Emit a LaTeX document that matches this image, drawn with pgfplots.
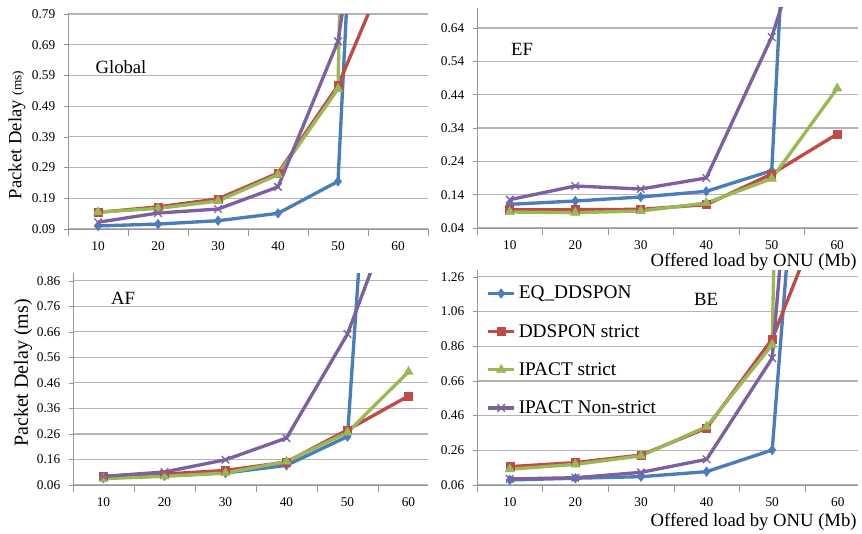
\documentclass[border=0pt]{standalone}
\usepackage{pgfplots}
\pgfplotsset{compat=1.18}
\usepackage{fontspec}
\setmainfont{Liberation Serif}
\definecolor{cblue}{RGB}{74,126,187}
\definecolor{cred}{RGB}{190,75,72}
\definecolor{cgreen}{RGB}{152,185,84}
\definecolor{cpurple}{RGB}{125,96,160}
\definecolor{cgrid}{RGB}{180,180,180}
\definecolor{caxis}{RGB}{150,150,150}
\pgfplotsset{
  panel/.style={
    scale only axis, anchor=south west,
    xmin=5, xtick={10,20,30,40,50,60},
    minor xtick={5,15,25,35,45,55,65},
    major x tick style={draw=none},
    minor x tick style={draw=caxis, thin},
    minor tick length=5pt,
    major tick length=3pt,
    y tick style={draw=caxis, thin},
    tick align=outside,
    tick pos=left,
    axis x line*=bottom, axis y line*=left,
    axis line style={draw=caxis, thin, -},
    ymajorgrids, grid style={draw=cgrid, line width=0.8pt},
    /pgf/number format/assume math mode=true,
    yticklabel style={/pgf/number format/fixed, /pgf/number format/fixed zerofill, /pgf/number format/precision=2},
    ticklabel style={font=\fontsize{10}{12}\selectfont},
    xticklabel style={yshift=-3pt},
    yticklabel style={xshift=-3pt},
    every axis plot/.append style={line width=2.5pt},
  },
  sb/.style={color=cblue, mark=diamond*, mark size=3.6pt, mark options={solid, line width=0.4pt}},
  sr/.style={color=cred, mark=square*, mark size=3pt, mark options={solid, line width=0.4pt}},
  sg/.style={color=cgreen, mark=triangle*, mark size=4pt, mark options={solid, line width=0.4pt}},
  sp/.style={color=cpurple, mark=x, mark size=4pt, mark options={solid, line width=1pt}},
}
\begin{document}
\begin{tikzpicture}
% Global
\begin{axis}[panel, at={(51pt,228pt)}, width=270pt, height=161.25pt,
  xmax=65, ymin=0.09, ymax=0.79, ytick={0.09,0.19,0.29,0.39,0.49,0.59,0.69,0.79}]
\addplot[sb] coordinates {(10,0.100)(20,0.106)(30,0.117)(40,0.141)(50,0.245)(60,4.2)};
\addplot[sr] coordinates {(10,0.144)(20,0.162)(30,0.188)(40,0.272)(50,0.557)(60,1.02)};
\addplot[sg] coordinates {(10,0.145)(20,0.157)(30,0.181)(40,0.267)(50,0.546)(60,10)};
\addplot[sp] coordinates {(10,0.112)(20,0.142)(30,0.155)(40,0.227)(50,0.701)(60,2.0)};
\end{axis}
% EF
\begin{axis}[panel, at={(357.75pt,228.75pt)}, width=285.75pt, height=165pt,
  xmax=63.17, ymin=0.04, ymax=0.70, ytick={0.04,0.14,0.24,0.34,0.44,0.54,0.64}]
\addplot[sb] coordinates {(10,0.111)(20,0.121)(30,0.133)(40,0.150)(50,0.212)(60,4.08)};
\addplot[sr] coordinates {(10,0.095)(20,0.095)(30,0.096)(40,0.110)(50,0.202)(60,0.322)};
\addplot[sg] coordinates {(10,0.088)(20,0.086)(30,0.091)(40,0.115)(50,0.188)(60,0.459)};
\addplot[sp] coordinates {(10,0.125)(20,0.166)(30,0.157)(40,0.190)(50,0.613)(60,1.23)};
\end{axis}
% AF
\begin{axis}[panel, at={(54.75pt,36pt)}, width=266.25pt, height=159pt,
  xmax=63.2, ymin=0.06, ymax=0.891, ytick={0.06,0.16,0.26,0.36,0.46,0.56,0.66,0.76,0.86}]
\addplot[sb] coordinates {(10,0.087)(20,0.096)(30,0.107)(40,0.137)(50,0.250)(60,3.8)};
\addplot[sr] coordinates {(10,0.094)(20,0.103)(30,0.117)(40,0.150)(50,0.276)(60,0.409)};
\addplot[sg] coordinates {(10,0.085)(20,0.094)(30,0.107)(40,0.152)(50,0.266)(60,0.504)};
\addplot[sp] coordinates {(10,0.094)(20,0.111)(30,0.159)(40,0.244)(50,0.652)(60,1.29)};
\end{axis}
% BE
\begin{axis}[panel, at={(357.75pt,36pt)}, width=285.75pt, height=161.25pt,
  xmax=63.08, ymin=0.06, ymax=1.30, ytick={0.06,0.26,0.46,0.66,0.86,1.06,1.26},
  legend style={at={(rel axis cs:0.02,0.945)}, anchor=north west, draw=none, fill=none,
    font=\fontsize{14.5}{16}\selectfont, row sep=13.5pt, inner sep=1pt, cells={anchor=west}},
  legend image code/.code={\draw[mark repeat=2,mark phase=2,line width=2.5pt] plot coordinates {(0cm,0cm) (0.35cm,0cm) (0.7cm,0cm)};}]
\addplot[sb] coordinates {(10,0.089)(20,0.099)(30,0.108)(40,0.137)(50,0.262)(60,5.1)};
\addplot[sr] coordinates {(10,0.166)(20,0.189)(30,0.233)(40,0.388)(50,0.902)(60,1.86)};
\addplot[sg] coordinates {(10,0.151)(20,0.179)(30,0.228)(40,0.397)(50,0.869)(60,20)};
\addplot[sp] coordinates {(10,0.095)(20,0.102)(30,0.133)(40,0.208)(50,0.792)(60,5.25)};
\legend{EQ\_DDSPON, DDSPON strict, IPACT strict, IPACT Non-strict}
\end{axis}
% panel labels
\node[font=\fontsize{14}{16}\selectfont] at (90.75pt,349.5pt) {Global};
\node[font=\fontsize{14}{16}\selectfont] at (391.5pt,363pt) {EF};
\node[font=\fontsize{14}{16}\selectfont] at (92.25pt,176.25pt) {AF};
\node[font=\fontsize{14}{16}\selectfont] at (529.5pt,175.5pt) {BE};
% axis labels
\node[rotate=90, font=\fontsize{14}{16}\selectfont] at (12.75pt,298.5pt) {Packet Delay {\fontsize{10}{12}\selectfont(ms)}};
\node[rotate=90, font=\fontsize{15}{17}\selectfont] at (17.25pt,120pt) {Packet Delay (ms)};
\node[anchor=east, font=\fontsize{14}{16}\selectfont] at (646pt,203.25pt) {Offered load by ONU (Mb)};
\node[anchor=east, font=\fontsize{14}{16}\selectfont] at (646pt,8.25pt) {Offered load by ONU (Mb)};
\pgfresetboundingbox
\path (0,0) rectangle (646.5pt,399.75pt);
\end{tikzpicture}
\end{document}
